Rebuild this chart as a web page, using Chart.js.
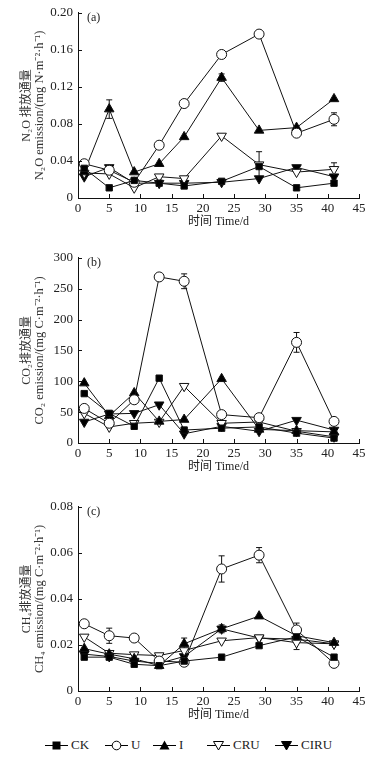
<!DOCTYPE html>
<html>
<head>
<meta charset="utf-8">
<script src="https://cdn.jsdelivr.net/npm/chart.js@4/dist/chart.umd.min.js"></script>
<style>
  body { margin: 0; background: #fff; width: 388px; height: 757px; position: relative; overflow: hidden; }
  canvas { position: absolute; left: 0; }
  #legend { position: absolute; left: 0; top: 736px; width: 388px; height: 18px; font: 13px 'Liberation Serif', serif; color: #222; }
  .item { position: absolute; top: 0; display: flex; align-items: center; height: 18px; }
  .item svg { margin-right: 3px; }
</style>
</head>
<body>
<canvas id="chartA" width="388" height="230" style="top:0px"></canvas>
<canvas id="chartB" width="388" height="230" style="top:245px"></canvas>
<canvas id="chartC" width="388" height="229" style="top:494px"></canvas>
<div id="legend"></div>

<script>
const days = [1, 5, 9, 13, 17, 23, 29, 35, 41];
const seriesNames = ["CK", "U", "I", "CRU", "CIRU"];
const xTitle = "时间 Time/d";

// (a) N2O
const n2oCK   = [0.032, 0.011, 0.019, 0.016, 0.013, 0.018, 0.034, 0.011, 0.016];
const n2oU    = [0.037, 0.030, 0.017, 0.057, 0.102, 0.155, 0.177, 0.070, 0.085];
const n2oI    = [0.028, 0.096, 0.028, 0.037, 0.066, 0.130, 0.073, 0.076, 0.107];
const n2oCRU  = [0.027, 0.026, 0.011, 0.023, 0.021, 0.067, 0.036, 0.028, 0.031];
const n2oCIRU = [0.023, 0.033, 0.016, 0.016, 0.016, 0.017, 0.021, 0.033, 0.023];
const n2oErrU = [0, 0, 0, 0, 0, 0, 0, 0, 0.007];
const n2oErrI = [0, 0.010, 0, 0, 0, 0.004, 0, 0, 0];
const n2oErrCRU = [0, 0, 0, 0, 0, 0, 0.014, 0, 0.007];

// (b) CO2
const co2CK   = [80, 48, 27, 105, 21, 24, 26, 16, 8];
const co2U    = [56, 32, 70, 269, 262, 46, 41, 163, 35];
const co2I    = [97, 44, 81, 35, 38, 104, 22, 20, 18];
const co2CRU  = [48, 26, 32, 34, 92, 32, 34, 19, 10];
const co2CIRU = [34, 47, 48, 62, 15, 27, 19, 37, 21];
const co2ErrU = [0, 0, 0, 0, 12, 0, 5, 16, 0];

// (c) CH4
const ch4CK   = [0.0147, 0.0147, 0.0116, 0.011, 0.013, 0.0147, 0.0197, 0.0235, 0.0147];
const ch4U    = [0.0292, 0.024, 0.023, 0.013, 0.0125, 0.053, 0.059, 0.0265, 0.012];
const ch4I    = [0.0184, 0.016, 0.014, 0.011, 0.0205, 0.027, 0.0325, 0.024, 0.021];
const ch4CRU  = [0.0235, 0.0164, 0.0158, 0.0154, 0.0176, 0.0218, 0.0232, 0.021, 0.0205];
const ch4CIRU = [0.016, 0.015, 0.013, 0.012, 0.015, 0.027, 0.023, 0.0225, 0.0205];
const ch4ErrU = [0, 0.0033, 0, 0, 0, 0.0057, 0.0033, 0.003, 0];
const ch4ErrI = [0, 0, 0, 0, 0.0025, 0.0017, 0, 0, 0];
const ch4ErrCRU = [0, 0, 0, 0, 0, 0, 0, 0.003, 0];

const markers = [
  { pointStyle: "rect", fill: "#000", radius: 4.5, rot: 0 },
  { pointStyle: "circle", fill: "#fff", radius: 5, rot: 0 },
  { pointStyle: "triangle", fill: "#000", radius: 5.5, rot: 0 },
  { pointStyle: "triangle", fill: "#fff", radius: 5.5, rot: 180 },
  { pointStyle: "triangle", fill: "#000", radius: 5.5, rot: 180 },
];

const serif = "'Liberation Serif', 'Noto Sans CJK SC', serif";

function makeSet(vals, i, errs) {
  const m = markers[i];
  return {
    label: seriesNames[i],
    data: days.map((d, k) => ({ x: d, y: vals[k] })),
    errs: errs || null,
    borderColor: "#111",
    borderWidth: 1,
    pointStyle: m.pointStyle,
    pointRotation: m.rot,
    pointRadius: m.radius,
    pointBackgroundColor: m.fill,
    pointBorderColor: "#111",
    pointBorderWidth: 1,
    tension: 0,
  };
}

// error bars, inward ticks, panel tag and axis titles
const extras = {
  id: "extras",
  beforeDatasetsDraw(chart) {
    const ctx = chart.ctx;
    const ys = chart.scales.y;
    ctx.save();
    ctx.strokeStyle = "#111";
    ctx.lineWidth = 1;
    chart.data.datasets.forEach((ds, di) => {
      if (!ds.errs) return;
      const meta = chart.getDatasetMeta(di);
      ds.errs.forEach((e, k) => {
        if (!e) return;
        const p = meta.data[k];
        const top = ys.getPixelForValue(ds.data[k].y + e);
        const bot = ys.getPixelForValue(ds.data[k].y - e);
        ctx.beginPath();
        ctx.moveTo(p.x, top); ctx.lineTo(p.x, bot);
        ctx.moveTo(p.x - 3, top); ctx.lineTo(p.x + 3, top);
        ctx.moveTo(p.x - 3, bot); ctx.lineTo(p.x + 3, bot);
        ctx.stroke();
      });
    });
    ctx.restore();
  },
  afterDraw(chart) {
    const ctx = chart.ctx;
    const { left, right, top, bottom } = chart.chartArea;
    const opts = chart.options.plugins.extras;
    ctx.save();
    ctx.strokeStyle = "#111";
    ctx.lineWidth = 1;
    ctx.beginPath();
    chart.scales.x.ticks.forEach((t) => {
      const px = Math.round(chart.scales.x.getPixelForValue(t.value)) + 0.5;
      ctx.moveTo(px, bottom); ctx.lineTo(px, bottom - 4);
    });
    chart.scales.y.ticks.forEach((t) => {
      const py = Math.round(chart.scales.y.getPixelForValue(t.value)) + 0.5;
      ctx.moveTo(left, py); ctx.lineTo(left + 4, py);
    });
    ctx.stroke();

    ctx.fillStyle = "#222";
    ctx.textBaseline = "middle";
    ctx.font = "12px " + serif;
    ctx.textAlign = "left";
    ctx.fillText(opts.tag, left + 9, top + 5);

    ctx.textAlign = "center";
    ctx.fillText(xTitle, (left + right) / 2, bottom + 24);

    ctx.fillStyle = "#333";
    const midY = (top + bottom) / 2;
    ctx.translate(27, midY);
    ctx.rotate(-Math.PI / 2);
    ctx.font = "12px " + serif;
    ctx.fillText(opts.yTitle[0], 0, 0);
    ctx.font = "12.5px " + serif;
    ctx.fillText(opts.yTitle[1], 0, 13);
    ctx.restore();
  },
};

function makeChart(id, tag, sets, ymax, ystep, fmt, yTitle) {
  return new Chart(document.getElementById(id), {
    type: "line",
    data: { datasets: sets },
    plugins: [extras],
    options: {
      responsive: false,
      animation: false,
      clip: false,
      layout: { padding: { top: 10, right: 29, left: 0, bottom: 0 } },
      plugins: { legend: { display: false }, tooltip: { enabled: false }, extras: { tag, yTitle } },
      scales: {
        x: {
          type: "linear",
          min: 0, max: 45,
          afterFit: (s) => { s.height = 32; },
          grid: { display: false, drawTicks: false },
          border: { color: "#111", width: 1 },
          ticks: { stepSize: 5, padding: 3, color: "#222", font: { family: serif, size: 13 } },
        },
        y: {
          min: 0, max: ymax,
          afterFit: (s) => { s.width = 78; },
          grid: { display: false, drawTicks: false },
          border: { color: "#111", width: 1 },
          ticks: { stepSize: ystep, padding: 5, color: "#222", font: { family: serif, size: 13 }, callback: fmt },
        },
      },
    },
  });
}

const fmt2 = (v) => (v === 0 ? "0" : v.toFixed(2));

makeChart("chartA", "(a)", [
  makeSet(n2oCK, 0), makeSet(n2oU, 1, n2oErrU), makeSet(n2oI, 2, n2oErrI),
  makeSet(n2oCRU, 3, n2oErrCRU), makeSet(n2oCIRU, 4),
], 0.2, 0.04, fmt2, ["N₂O 排放通量", "N₂O emission/(mg N·m⁻²·h⁻¹)"]);

makeChart("chartB", "(b)", [
  makeSet(co2CK, 0), makeSet(co2U, 1, co2ErrU), makeSet(co2I, 2),
  makeSet(co2CRU, 3), makeSet(co2CIRU, 4),
], 300, 50, (v) => String(v), ["CO₂排放通量", "CO₂ emission/(mg C·m⁻²·h⁻¹)"]);

makeChart("chartC", "(c)", [
  makeSet(ch4CK, 0), makeSet(ch4U, 1, ch4ErrU), makeSet(ch4I, 2, ch4ErrI),
  makeSet(ch4CRU, 3, ch4ErrCRU), makeSet(ch4CIRU, 4),
], 0.08, 0.02, fmt2, ["CH₄排放通量", "CH₄ emission/(mg C·m⁻²·h⁻¹)"]);

// legend
const legendX = [45, 105, 153, 207, 275];
const legend = document.getElementById("legend");
seriesNames.forEach((name, i) => {
  const m = markers[i];
  let shape = "";
  if (m.pointStyle === "rect") shape = '<rect x="7.5" y="2.5" width="8" height="8" fill="#000"/>';
  else if (m.pointStyle === "circle") shape = '<circle cx="11.5" cy="6.5" r="4.3" fill="#fff" stroke="#000"/>';
  else if (m.rot === 0) shape = '<polygon points="11.5,1.5 16.5,10.5 6.5,10.5" fill="#000"/>';
  else shape = '<polygon points="6.5,2.5 16.5,2.5 11.5,11" fill="' + m.fill + '" stroke="#000"/>';
  const div = document.createElement("div");
  div.className = "item";
  div.style.left = legendX[i] + "px";
  div.innerHTML = '<svg width="23" height="13"><line x1="0" y1="6.5" x2="23" y2="6.5" stroke="#000"/>' + shape + "</svg>" + name;
  legend.appendChild(div);
});
</script>
</body>
</html>
